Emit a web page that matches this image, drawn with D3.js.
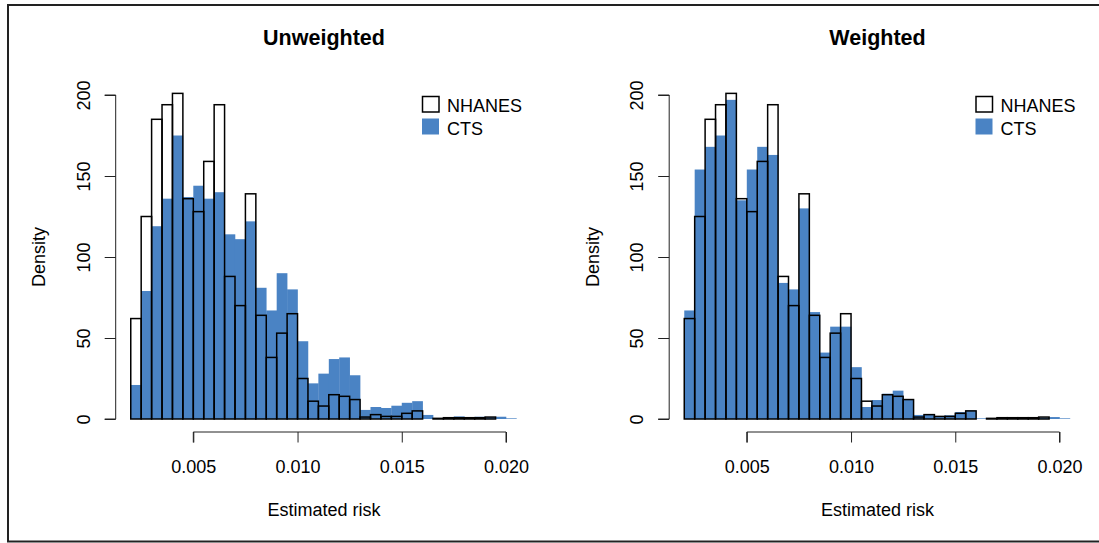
<!DOCTYPE html>
<html>
<head>
  <title>Estimated risk histograms</title>
  <style>
    body { margin: 0; background: #fff; }
    text { font-family: "Liberation Sans", Arial, sans-serif; fill: #000; }
  </style>
</head>
<body>
  <script src="https://d3js.org/d3.v7.min.js"></script>
  <script>
    // Histogram break points (bin width 0.0005)
    var breaks = [0.0020, 0.0025, 0.0030, 0.0035, 0.0040, 0.0045, 0.0050, 0.0055, 0.0060, 0.0065,
                  0.0070, 0.0075, 0.0080, 0.0085, 0.0090, 0.0095, 0.0100, 0.0105, 0.0110, 0.0115,
                  0.0120, 0.0125, 0.0130, 0.0135, 0.0140, 0.0145, 0.0150, 0.0155, 0.0160, 0.0165,
                  0.0170, 0.0175, 0.0180, 0.0185, 0.0190, 0.0195, 0.0200, 0.0205];

    // Density per bin
    var nhanes = [62, 125, 185, 194, 201, 136, 128, 159, 194, 88, 70, 139, 64, 38, 53, 65, 25, 11, 8, 15,
                  14, 12, 1.2, 2.7, 1.6, 1.6, 3.5, 5, 0, 0.4, 0.8, 0.8, 0.8, 0.8, 1.2, 0, 0];
    var ctsUnweighted = [21, 79, 119, 136, 175, 137, 144, 136, 140, 114, 111, 122, 81, 67, 90, 80, 48, 22, 28, 37,
                         38, 27, 5.6, 7.4, 6.8, 8.2, 10, 11, 2.5, 0.5, 1.2, 1.6, 1, 1.4, 1.2, 1.4, 0.4];
    var ctsWeighted = [67, 154, 168, 175, 197, 135, 154, 168, 163, 84, 80, 130, 66, 41, 57, 57, 32, 7.4, 11.7, 15.6,
                       17.5, 12, 2.5, 2.9, 1.6, 2.3, 4.3, 5.3, 0.4, 0.3, 0.5, 0.5, 0.5, 0.5, 0.9, 1.2, 0.4];

    var xTicks = [0.005, 0.010, 0.015, 0.020];
    var yTicks = [0, 50, 100, 150, 200];
    var seriesNames = ["NHANES", "CTS"];

    var blue = "#4a83c4";
    var W = 1099, H = 543;

    var svg = d3.select("body").append("svg")
      .attr("width", W)
      .attr("height", H);

    // outer frame (left, top, bottom)
    svg.append("path")
      .attr("d", "M1099,5 H8 V541.5 H1099")
      .attr("fill", "none")
      .attr("stroke", "#222")
      .attr("stroke-width", 2);

    var y = d3.scaleLinear().domain([0, 200]).range([419, 95]);

    function panel(offset, title, cts) {
      var x = d3.scaleLinear().domain([0.005, 0.020]).range([193.3 + offset, 506 + offset]);
      var g = svg.append("g");

      var bins = breaks.slice(0, -1).map(function (b, i) {
        return { x0: b, x1: breaks[i + 1], cts: cts[i], nh: nhanes[i] };
      });

      // CTS bars, no border
      g.selectAll(".cts")
        .data(bins)
        .enter().append("rect")
        .attr("x", function (d) { return x(d.x0); })
        .attr("width", function (d) { return x(d.x1) - x(d.x0) + 0.3; })
        .attr("y", function (d) { return y(d.cts); })
        .attr("height", function (d) { return y(0) - y(d.cts); })
        .attr("fill", blue);

      // NHANES bars, outline only
      g.selectAll(".nh")
        .data(bins.filter(function (d) { return d.nh > 0; }))
        .enter().append("rect")
        .attr("x", function (d) { return x(d.x0); })
        .attr("width", function (d) { return x(d.x1) - x(d.x0); })
        .attr("y", function (d) { return y(d.nh); })
        .attr("height", function (d) { return y(0) - y(d.nh); })
        .attr("fill", "none")
        .attr("stroke", "#000")
        .attr("stroke-width", 1.5);

      // x axis
      var xa = g.append("g")
        .attr("transform", "translate(0,432)")
        .call(d3.axisBottom(x).tickValues(xTicks).tickSize(10.5).tickPadding(18)
          .tickFormat(d3.format(".3f")));
      xa.select(".domain").attr("stroke", "#222").attr("d",
        "M" + x(0.005) + ",10.5V0H" + x(0.020) + "V10.5");
      xa.selectAll(".tick line").attr("stroke", "#222");
      xa.selectAll("text").attr("font-size", 18).attr("font-family", "Liberation Sans, Arial, sans-serif")
        .attr("fill", "#000");

      // y axis
      var ya = g.append("g")
        .attr("transform", "translate(" + (115.7 + offset) + ",0)")
        .call(d3.axisLeft(y).tickValues(yTicks).tickSize(11).tickFormat(d3.format("d")));
      ya.select(".domain").attr("stroke", "#222").attr("d", "M-11," + y(0) + "H0V" + y(200) + "H-11");
      ya.selectAll(".tick line").attr("stroke", "#222");
      ya.selectAll(".tick text")
        .attr("font-size", 18)
        .attr("font-family", "Liberation Sans, Arial, sans-serif")
        .attr("fill", "#000")
        .attr("x", null).attr("dy", null)
        .attr("text-anchor", "middle")
        .attr("transform", "translate(-26,0) rotate(-90)");

      // title and axis labels
      g.append("text")
        .attr("x", 324 + offset).attr("y", 45)
        .attr("text-anchor", "middle")
        .attr("font-size", 21.5).attr("font-weight", "bold")
        .text(title);
      g.append("text")
        .attr("x", 324 + offset).attr("y", 516)
        .attr("text-anchor", "middle")
        .attr("font-size", 18)
        .text("Estimated risk");
      g.append("text")
        .attr("transform", "translate(" + (45 + offset) + ",257) rotate(-90)")
        .attr("text-anchor", "middle")
        .attr("font-size", 18)
        .text("Density");

      // legend
      var lg = g.append("g").attr("transform", "translate(" + (422 + offset) + ",96)");
      lg.append("rect").attr("x", 0.5).attr("y", 0.5).attr("width", 16.5).attr("height", 15.5)
        .attr("fill", "#fff").attr("stroke", "#000").attr("stroke-width", 1.5);
      lg.append("rect").attr("x", 0).attr("y", 22.5).attr("width", 17).attr("height", 16)
        .attr("fill", blue);
      lg.selectAll(".lt")
        .data(seriesNames)
        .enter().append("text")
        .attr("x", 25)
        .attr("y", function (d, i) { return 15.5 + i * 23; })
        .attr("font-size", 18)
        .text(function (d) { return d; });
    }

    panel(0, "Unweighted", ctsUnweighted);
    panel(553.5, "Weighted", ctsWeighted);
  </script>
</body>
</html>
